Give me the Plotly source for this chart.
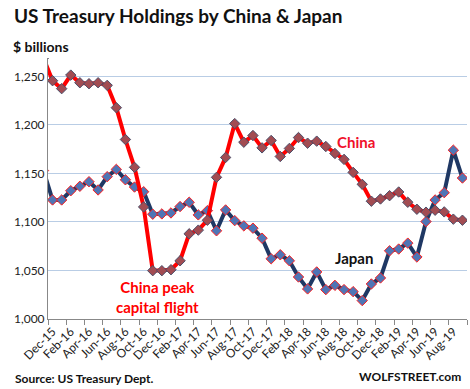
import plotly.graph_objects as go

months = ["Nov-15", "Dec-15",
          "Jan-16", "Feb-16", "Mar-16", "Apr-16", "May-16", "Jun-16", "Jul-16", "Aug-16", "Sep-16", "Oct-16", "Nov-16", "Dec-16",
          "Jan-17", "Feb-17", "Mar-17", "Apr-17", "May-17", "Jun-17", "Jul-17", "Aug-17", "Sep-17", "Oct-17", "Nov-17", "Dec-17",
          "Jan-18", "Feb-18", "Mar-18", "Apr-18", "May-18", "Jun-18", "Jul-18", "Aug-18", "Sep-18", "Oct-18", "Nov-18", "Dec-18",
          "Jan-19", "Feb-19", "Mar-19", "Apr-19", "May-19", "Jun-19", "Jul-19", "Aug-19", "Sep-19"]

china = [1269, 1245.6,
         1237.4, 1251.4, 1243.5, 1242.5, 1243.5, 1240.8, 1217.8, 1185.0, 1156.3, 1115.5, 1049.8, 1049.8,
         1050.8, 1060.0, 1087.8, 1091.6, 1101.8, 1146.0, 1166.5, 1201.4, 1182.2, 1189.1, 1176.4, 1184.0,
         1167.5, 1175.8, 1187.0, 1181.2, 1183.3, 1177.8, 1170.6, 1164.5, 1151.1, 1138.8, 1121.4, 1123.7,
         1127.1, 1130.9, 1120.3, 1113.1, 1110.1, 1112.1, 1110.4, 1102.9, 1101.8]

japan = [1153, 1122.7,
         1122.7, 1132.2, 1136.8, 1141.5, 1133.0, 1146.7, 1154.2, 1143.5, 1136.0, 1131.2, 1108.0, 1108.3,
         1109.3, 1115.9, 1120.3, 1107.3, 1111.7, 1090.9, 1112.4, 1101.4, 1096.0, 1093.6, 1083.3, 1062.1,
         1066.2, 1060.0, 1043.3, 1031.0, 1048.5, 1030.3, 1034.7, 1030.3, 1028.2, 1019.0, 1036.1, 1042.3,
         1070.3, 1072.1, 1078.2, 1063.9, 1100.4, 1122.7, 1130.2, 1174.0, 1145.3]

y_ticks = [1000, 1050, 1100, 1150, 1200, 1250]
y_tick_labels = ["1,000", "1,050", "1,100", "1,150", "1,200", "1,250"]

x = list(range(-1, len(months) - 1))
label_idx = list(range(0, len(months) - 1, 2))
label_text = [months[i + 1] for i in label_idx]

FONT = "Lato"
W, H = 470, 389
ML, MR, MT, MB = 48, 3, 58, 70

fig = go.Figure()
fig.add_trace(go.Scatter(
    x=x, y=japan, mode="lines+markers", name="Japan",
    line=dict(color="#1F3864", width=4),
    marker=dict(symbol="diamond", size=8, color="#4F75B5", line=dict(color="#FF2020", width=1)),
))
fig.add_trace(go.Scatter(
    x=x, y=china, mode="lines+markers", name="China",
    line=dict(color="#FF0000", width=4),
    marker=dict(symbol="diamond", size=8, color="#A24C52", line=dict(color="#4A4F6A", width=1)),
))

fig.update_layout(
    width=W, height=H,
    margin=dict(l=ML, r=MR, t=MT, b=MB, autoexpand=False),
    paper_bgcolor="white", plot_bgcolor="white",
    showlegend=False,
    font=dict(family=FONT, size=12, color="#222222"),
    xaxis=dict(
        range=[-0.5, 45.5], tickmode="array", tickvals=label_idx, ticktext=label_text,
        tickangle=-45, ticks="", showgrid=False, zeroline=False, automargin=False,
        showline=True, linecolor="#888888", linewidth=1,
        tickfont=dict(family=FONT, size=12, color="#222222"),
        minor=dict(ticks="outside", tick0=-0.5, dtick=2, ticklen=5, tickcolor="#888888", showgrid=False),
    ),
    yaxis=dict(
        range=[1000, 1269], tickmode="array", tickvals=y_ticks, ticktext=y_tick_labels,
        showgrid=True, gridcolor="#B9CDE5", gridwidth=1, zeroline=False, automargin=False,
        showline=True, linecolor="#888888", linewidth=1, ticks="",
        tickfont=dict(family=FONT, size=12, color="#222222"),
    ),
)


def px(xp):
    return (xp - ML) / (W - ML - MR)


def py(yp):
    return (H - MB - yp) / (H - MT - MB)


anns = [
    dict(text="<b>US Treasury Holdings by China &amp; Japan</b>", x=12, y=16, size=19, xanchor="left"),
    dict(text="<b>$ billions</b>", x=11, y=46, size=14, xanchor="left"),
    dict(text="<b>Source: US Treasury Dept.</b>", x=13, y=378, size=12, xanchor="left"),
    dict(text="<b>WOLFSTREET.com</b>", x=463, y=376, size=12, xanchor="right"),
]
for a in anns:
    fig.add_annotation(text=a["text"], xref="paper", yref="paper",
                       x=px(a["x"]), y=py(a["y"]), xanchor=a["xanchor"], yanchor="middle",
                       showarrow=False, font=dict(family=FONT, size=a["size"], color="#111111"))

fig.add_annotation(text="<b>China</b>", x=33.3, y=1182, xref="x", yref="y", showarrow=False,
                   font=dict(family=FONT, size=15, color="#F0102A"))
fig.add_annotation(text="<b>Japan</b>", x=33.1, y=1063, xref="x", yref="y", showarrow=False,
                   font=dict(family=FONT, size=15, color="#111111"))
fig.add_annotation(text="<b>China peak<br>capital flight</b>", x=11.5, y=1023, xref="x", yref="y",
                   showarrow=False, align="center",
                   font=dict(family=FONT, size=15, color="#FF0000"))

fig.write_html("out.html", config={"displayModeBar": False},
               post_script="document.body.style.margin='0px';")
